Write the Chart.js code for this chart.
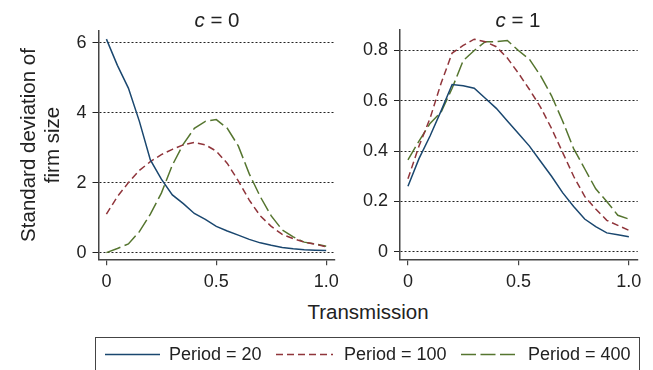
<!DOCTYPE html>
<html>
<head>
<meta charset="utf-8">
<script src="https://cdn.jsdelivr.net/npm/chart.js@4"></script>
<style>
  html, body { margin: 0; padding: 0; background: #fff; }
  #wrap { position: relative; width: 653px; height: 370px; overflow: hidden; background: #fff;
          font-family: "Liberation Sans", Arial, Helvetica, sans-serif; color: #222; }
  canvas { position: absolute; top: 0; }
  .t { position: absolute; white-space: nowrap; }
</style>
</head>
<body>
<div id="wrap">
  <canvas id="c0" width="345" height="300" style="left:0px;width:345px;height:300px"></canvas>
  <canvas id="c1" width="308" height="300" style="left:345px;width:308px;height:300px"></canvas>

  <div class="t" id="title0" style="left:117px;width:200px;top:8px;text-align:center;font-size:20.5px;line-height:24px"><i>c</i> = 0</div>
  <div class="t" id="title1" style="left:418px;width:200px;top:8px;text-align:center;font-size:20.5px;line-height:24px"><i>c</i> = 1</div>

  <div class="t" id="ytitle" style="left:-80px;top:121px;width:240px;height:48px;text-align:center;font-size:20.5px;line-height:24px;transform:rotate(-90deg);transform-origin:50% 50%">Standard deviation of<br>firm size</div>

  <div class="t" id="xtitle" style="left:268px;width:200px;top:300px;text-align:center;font-size:20.5px;line-height:24px">Transmission</div>

  <div id="legendBox" style="position:absolute;left:95px;top:337px;width:545px;height:60px;border:1.5px solid #444;box-sizing:border-box"></div>
  <svg style="position:absolute;left:0;top:0" width="653" height="370">
    <line x1="105" y1="354.5" x2="160" y2="354.5" stroke="#1a476f" stroke-width="1.5"/>
    <line x1="276" y1="354.5" x2="333" y2="354.5" stroke="#90353b" stroke-width="1.5" stroke-dasharray="7,4"/>
    <line x1="461" y1="354.5" x2="515" y2="354.5" stroke="#55752f" stroke-width="1.5" stroke-dasharray="15,4.5"/>
  </svg>
  <div class="t" style="left:169px;top:343px;font-size:18px;line-height:22px">Period = 20</div>
  <div class="t" style="left:344px;top:343px;font-size:18px;line-height:22px">Period = 100</div>
  <div class="t" style="left:528px;top:343px;font-size:18px;line-height:22px">Period = 400</div>
</div>

<script>
// ---------------- data ----------------
const transmission = [0, 0.05, 0.1, 0.15, 0.2, 0.25, 0.3, 0.35, 0.4, 0.45, 0.5,
                      0.55, 0.6, 0.65, 0.7, 0.75, 0.8, 0.85, 0.9, 0.95, 1.0];

// c = 0
const c0_period20  = [6.1, 5.35, 4.7, 3.75, 2.65, 2.1, 1.65, 1.4, 1.12, 0.95, 0.75,
                      0.62, 0.5, 0.38, 0.28, 0.21, 0.15, 0.11, 0.08, 0.07, 0.06];
const c0_period100 = [1.1, 1.6, 2.0, 2.35, 2.6, 2.8, 2.95, 3.08, 3.15, 3.08, 2.9,
                      2.55, 2.05, 1.5, 1.05, 0.75, 0.52, 0.4, 0.3, 0.24, 0.17];
const c0_period400 = [0.0, 0.12, 0.25, 0.6, 1.1, 1.7, 2.5, 3.1, 3.55, 3.75, 3.8,
                      3.55, 3.05, 2.25, 1.6, 1.05, 0.65, 0.45, 0.3, 0.25, 0.18];

// c = 1
const c1_period20  = [0.26, 0.37, 0.46, 0.56, 0.665, 0.66, 0.65, 0.61, 0.57, 0.52, 0.47,
                      0.42, 0.36, 0.30, 0.235, 0.18, 0.13, 0.10, 0.075, 0.068, 0.06];
const c1_period100 = [0.29, 0.42, 0.53, 0.67, 0.79, 0.82, 0.845, 0.835, 0.815, 0.77, 0.71,
                      0.645, 0.575, 0.49, 0.395, 0.30, 0.22, 0.17, 0.125, 0.105, 0.085];
const c1_period400 = [0.365, 0.44, 0.51, 0.555, 0.65, 0.76, 0.80, 0.835, 0.835, 0.84, 0.80,
                      0.765, 0.70, 0.62, 0.52, 0.41, 0.33, 0.25, 0.20, 0.145, 0.13];

const seriesNames = ["Period = 20", "Period = 100", "Period = 400"];

const xTicks = [0, 0.5, 1.0];
const xTickLabels = ["0", "0.5", "1.0"];
const yTicksC0 = [0, 2, 4, 6];
const yTickLabelsC0 = ["0", "2", "4", "6"];
const yTicksC1 = [0, 0.2, 0.4, 0.6, 0.8];
const yTickLabelsC1 = ["0", "0.2", "0.4", "0.6", "0.8"];

// ---------------- styling ----------------
const colors = ["#1a476f", "#90353b", "#55752f"];
const dashes = [[], [7, 4], [15, 4.5]];
const FONT = "'Liberation Sans', Arial, Helvetica, sans-serif";

function pts(ys) { return transmission.map((x, i) => ({ x: x, y: ys[i] })); }

function makeChart(id, seriesList, yTicks, yLabels, yMin, yMax, pad, yWidth) {
  const datasets = seriesList.map((s, i) => ({
    label: seriesNames[i],
    data: pts(s),
    borderColor: colors[i],
    borderWidth: 1.5,
    borderDash: dashes[i],
    pointRadius: 0,
    fill: false,
    tension: 0
  }));
  return new Chart(document.getElementById(id), {
    type: 'line',
    data: { datasets: datasets },
    options: {
      responsive: false,
      animation: false,
      events: [],
      layout: { padding: pad, autoPadding: false },
      plugins: { legend: { display: false }, tooltip: { enabled: false }, title: { display: false } },
      scales: {
        x: {
          type: 'linear',
          min: -0.036, max: 1.04,
          afterBuildTicks: s => { s.ticks = xTicks.map(v => ({ value: v })); },
          afterFit: s => { s.height = 40.7; },
          ticks: {
            callback: (v) => { const k = xTicks.indexOf(v); return k >= 0 ? xTickLabels[k] : ''; },
            font: { family: FONT, size: 18 }, color: '#222', padding: 6, maxRotation: 0, autoSkip: false
          },
          grid: { display: true, drawOnChartArea: false, drawTicks: true, tickLength: 6, color: '#444', lineWidth: 1.2 },
          border: { display: true, color: '#444', width: 1.5 }
        },
        y: {
          type: 'linear',
          min: yMin, max: yMax,
          afterBuildTicks: s => { s.ticks = yTicks.map(v => ({ value: v })); },
          afterFit: s => { s.width = yWidth; },
          ticks: {
            callback: (v) => { const k = yTicks.indexOf(v); return k >= 0 ? yLabels[k] : ''; },
            font: { family: FONT, size: 18 }, color: '#222', padding: 6, autoSkip: false
          },
          grid: { display: true, drawOnChartArea: true, drawTicks: true, tickLength: 6, color: '#222', lineWidth: 1 },
          border: { display: true, color: '#444', width: 1.5, dash: [2, 2] }
        }
      }
    }
  });
}

makeChart('c0', [c0_period20, c0_period100, c0_period400], yTicksC0, yTickLabelsC0,
          -0.19, 6.34, { left: 0, right: 8, top: 30.7, bottom: 0 }, 98.5);
makeChart('c1', [c1_period20, c1_period100, c1_period400], yTicksC1, yTickLabelsC1,
          -0.030, 0.8815, { left: 0, right: 15.3, top: 30, bottom: 0 }, 55);
</script>
</body>
</html>
